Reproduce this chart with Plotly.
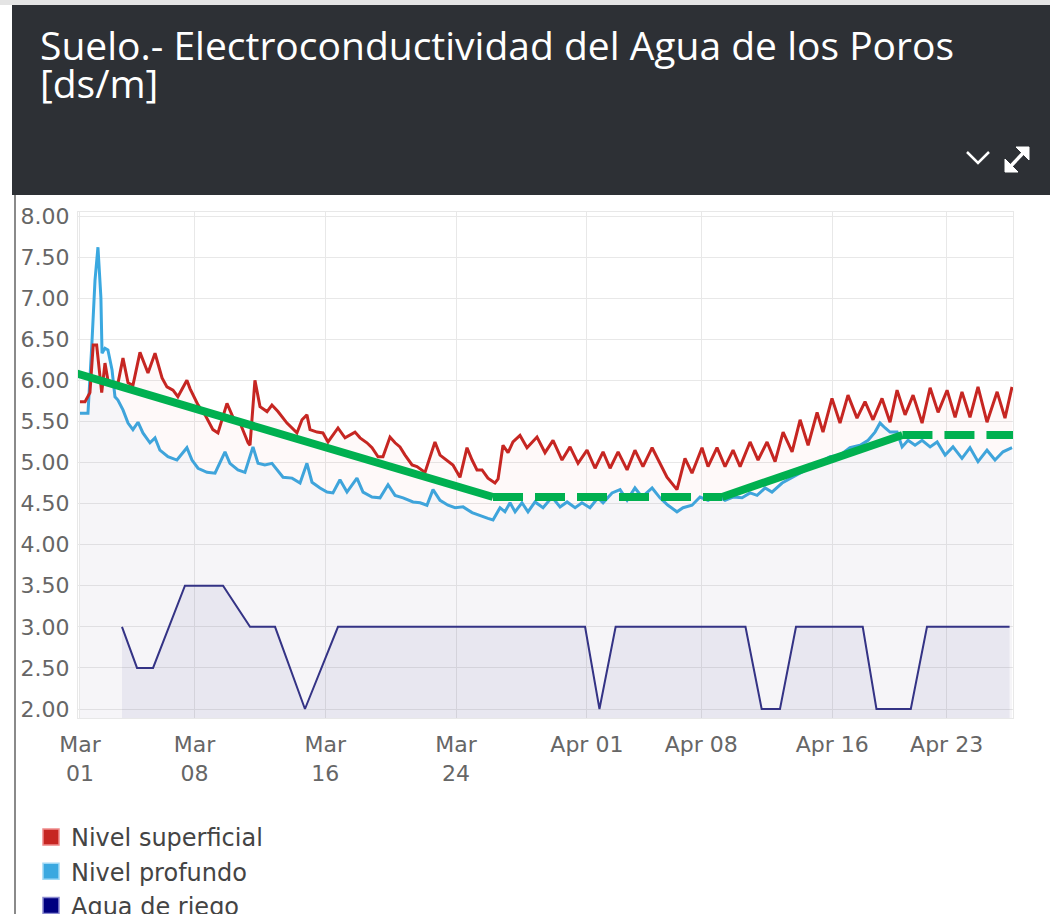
import pandas as pd
import plotly.graph_objects as go

# ---------------- data (x = days since 1 March, y = dS/m) ----------------
base_date = "2019-03-01"

sup_days = [0.00, 0.31, 0.61, 0.81, 1.02, 1.33, 1.53, 1.71, 1.96, 2.32, 2.63, 2.94, 3.24, 3.67,
            4.16, 4.59, 5.02, 5.32, 5.69, 5.99, 6.54, 6.73, 7.22, 7.65, 8.13, 8.44, 8.99, 9.36,
            9.79, 10.28, 10.40, 10.70, 11.01, 11.44, 11.74, 12.11, 12.66, 12.97, 13.27, 13.58,
            13.88, 14.07, 14.50, 14.86, 15.17, 15.78, 16.21, 16.82, 17.13, 17.55, 17.86, 18.23,
            18.53, 18.96, 19.27, 19.57, 19.88, 20.31, 20.61, 21.10, 21.71, 22.02, 22.45, 22.81,
            23.24, 23.67, 23.98, 24.28, 24.59, 24.95, 25.38, 25.57, 25.87, 26.18, 26.48, 26.91,
            27.34, 27.95, 28.44, 28.93, 29.48, 29.97, 30.46, 31.01, 31.50, 31.99, 32.42, 32.91,
            33.46, 33.94, 34.43, 34.99, 35.90, 36.51, 37.00, 37.43, 38.04, 38.41, 38.96, 39.45,
            39.94, 40.37, 40.98, 41.47, 42.02, 42.51, 43.00, 43.55, 44.04, 44.53, 45.08, 45.44,
            45.99, 46.48, 46.97, 47.52, 48.01, 48.50, 49.05, 49.54, 49.97, 50.46, 50.95, 51.50,
            51.99, 52.48, 53.03, 53.52, 53.94, 54.43, 54.92, 55.47, 56.09, 56.57, 57.00]
sup_vals = [5.74, 5.74, 5.85, 6.43, 6.43, 5.85, 6.21, 6.00, 5.98, 5.96, 6.27, 5.97, 5.94, 6.34,
            6.09, 6.33, 6.03, 5.92, 5.88, 5.80, 6.00, 5.90, 5.70, 5.58, 5.40, 5.36, 5.72, 5.55,
            5.48, 5.24, 5.21, 6.00, 5.68, 5.62, 5.70, 5.62, 5.48, 5.42, 5.36, 5.52,
            5.58, 5.40, 5.37, 5.36, 5.25, 5.42, 5.30, 5.37, 5.30, 5.24, 5.18, 5.07,
            5.07, 5.31, 5.24, 5.19, 5.09, 4.97, 4.95, 4.88, 5.25, 5.09, 5.03, 4.97,
            4.82, 5.18, 5.03, 4.91, 4.91, 4.81, 4.75, 4.80, 5.21, 5.12, 5.25, 5.33,
            5.18, 5.31, 5.12, 5.27, 5.03, 5.19, 4.99, 5.15, 4.93, 5.13, 4.93, 5.13,
            4.91, 5.15, 4.95, 5.18, 4.82, 4.67, 5.05, 4.87, 5.18, 4.95, 5.18, 4.95,
            5.15, 4.95, 5.25, 5.03, 5.25, 5.01, 5.37, 5.13, 5.52, 5.21, 5.61, 5.37,
            5.78, 5.48, 5.82, 5.54, 5.74, 5.52, 5.78, 5.49, 5.88, 5.58, 5.82, 5.48,
            5.91, 5.61, 5.88, 5.55, 5.86, 5.55, 5.92, 5.49, 5.86, 5.54, 5.92]

prof_days = [0.00, 0.49, 0.73, 0.92, 1.10, 1.28, 1.35, 1.53, 1.71, 1.96, 2.14, 2.32, 2.63, 2.94,
             3.24, 3.55, 3.85, 4.28, 4.59, 4.89, 5.38, 5.93, 6.54, 6.85, 7.22, 7.77, 8.26, 8.87,
             9.17, 9.66, 10.09, 10.58, 10.89, 11.31, 11.74, 12.05, 12.42, 12.97, 13.46, 13.88,
             14.19, 14.68, 15.11, 15.47, 15.90, 16.33, 16.94, 17.31, 17.86, 18.35, 18.84, 19.27,
             19.76, 20.37, 20.80, 21.22, 21.59, 22.02, 22.51, 22.94, 23.43, 23.98, 24.46, 24.95,
             25.26, 25.69, 25.99, 26.30, 26.61, 27.03, 27.40, 27.83, 28.32, 28.87, 29.36, 29.79,
             30.28, 30.70, 31.19, 31.68, 31.99, 32.54, 33.03, 33.46, 33.94, 34.37, 34.99, 35.47,
             35.96, 36.51, 36.88, 37.43, 37.92, 38.41, 38.96, 39.45, 39.94, 40.49, 40.98, 41.41,
             41.90, 42.32, 42.94, 43.85, 44.83, 45.38, 45.87, 46.48, 47.09, 47.71, 48.20, 48.62,
             48.93, 49.24, 49.54, 49.97, 50.28, 50.64, 51.07, 51.50, 51.99, 52.42, 52.91, 53.39,
             53.94, 54.43, 54.92, 55.47, 55.96, 56.45, 57.00]
prof_vals = [5.60, 5.60, 6.45, 7.22, 7.62, 7.01, 6.33, 6.39, 6.37, 6.13, 5.80, 5.76, 5.64, 5.48,
             5.40, 5.49, 5.36, 5.24, 5.30, 5.15, 5.07, 5.03, 5.18, 5.03, 4.93, 4.88, 4.87, 5.13,
             4.99, 4.91, 4.88, 5.19, 4.99, 4.97, 4.99, 4.91, 4.82, 4.81, 4.75, 4.99,
             4.76, 4.69, 4.64, 4.63, 4.79, 4.64, 4.81, 4.64, 4.58, 4.57, 4.73, 4.60,
             4.57, 4.52, 4.51, 4.48, 4.67, 4.54, 4.48, 4.45, 4.46, 4.39, 4.36, 4.32,
             4.30, 4.45, 4.40, 4.51, 4.40, 4.51, 4.40, 4.52, 4.45, 4.58, 4.46, 4.52,
             4.45, 4.51, 4.45, 4.57, 4.51, 4.63, 4.67, 4.54, 4.69, 4.58, 4.69, 4.57,
             4.48, 4.40, 4.45, 4.48, 4.58, 4.54, 4.60, 4.54, 4.58, 4.57, 4.63, 4.60,
             4.69, 4.64, 4.75, 4.85, 4.95, 5.01, 5.07, 5.09, 5.18, 5.21, 5.27, 5.37,
             5.48, 5.42, 5.37, 5.37, 5.19, 5.27, 5.21, 5.27, 5.19, 5.25, 5.09, 5.19,
             5.05, 5.18, 5.01, 5.15, 5.03, 5.13, 5.18]

riego_days = [2.57, 3.49, 4.47, 6.42, 8.75, 10.40, 11.93, 13.76, 15.78, 30.89, 31.77, 32.76,
              40.70, 41.69, 42.81, 43.79, 47.87, 48.71, 50.81, 51.80, 56.85]
riego_vals = [3.0, 2.5, 2.5, 3.5, 3.5, 3.0, 3.0, 2.0, 3.0, 3.0, 2.0, 3.0,
              3.0, 2.0, 2.0, 3.0, 3.0, 2.0, 2.0, 3.0, 3.0]

# hand-drawn green trend annotation (break points)
trend_days = [-0.49, 25.26, 39.27, 50.30, 57.30]
trend_vals = [6.10, 4.58, 4.58, 5.335, 5.335]

series_names = ["Nivel superficial", "Nivel profundo", "Agua de riego"]

tick_dates = ["2019-03-01", "2019-03-08", "2019-03-16", "2019-03-24",
              "2019-04-01", "2019-04-08", "2019-04-16", "2019-04-23"]
tick_text = ["Mar<br>01", "Mar<br>08", "Mar<br>16", "Mar<br>24",
             "Apr 01", "Apr 08", "Apr 16", "Apr 23"]

title_line1 = "Suelo.- Electroconductividad del Agua de los Poros"
title_line2 = "[ds/m]"

# ---------------- helpers ----------------
t0 = pd.Timestamp(base_date)


def to_dates(days):
    return [t0 + pd.to_timedelta(d, unit="D") for d in days]


W, H = 1050, 914
L, R, T, B = 78, 1013, 212, 718


def pxx(x):
    return (x - L) / (R - L)


def pxy(y):
    return (B - y) / (B - T)


TITLE_FONT = "Open Sans, Noto Sans, DejaVu Sans, sans-serif"
AX_FONT = "DejaVu Sans, Open Sans, sans-serif"
RED = "#c62622"
BLUE = "#3aa8e0"
NAVY = "#2e2e84"
GREEN = "#00b050"

fig = go.Figure()

fig.add_trace(go.Scatter(x=to_dates(riego_days), y=riego_vals, mode="lines",
                         line=dict(color=NAVY, width=2), fill="tozeroy",
                         fillcolor="rgba(40,40,140,0.065)", showlegend=False,
                         name=series_names[2]))
fig.add_trace(go.Scatter(x=to_dates(prof_days), y=prof_vals, mode="lines",
                         line=dict(color=BLUE, width=3), fill="tozeroy",
                         fillcolor="rgba(60,160,230,0.045)", showlegend=False,
                         name=series_names[1]))
fig.add_trace(go.Scatter(x=to_dates(sup_days), y=sup_vals, mode="lines",
                         line=dict(color=RED, width=3), fill="tozeroy",
                         fillcolor="rgba(220,60,60,0.03)", showlegend=False,
                         name=series_names[0]))

# green trend annotation: solid / dashed segments
seg_styles = ["solid", "30px,12px", "solid", "30px,12px"]
td = to_dates(trend_days)
for i, dash in enumerate(seg_styles):
    fig.add_trace(go.Scatter(x=[td[i], td[i + 1]], y=[trend_vals[i], trend_vals[i + 1]],
                             mode="lines", line=dict(color=GREEN, width=8, dash=dash),
                             showlegend=False, hoverinfo="skip"))

# legend swatches
for name, col, edge in zip(series_names, [RED, BLUE, "#000080"],
                           ["#f08a8a", "#9fd8f5", "#8a8ad0"]):
    fig.add_trace(go.Scatter(x=[None], y=[None], mode="markers", name=name,
                             marker=dict(symbol="square", size=18, color=col,
                                         line=dict(color=edge, width=1.5))))

# icon geometry (header buttons)
chev = "M {} {} L {} {} L {} {}".format(pxx(967), pxy(152), pxx(978), pxy(163), pxx(989), pxy(152))
tri1 = "M {} {} L {} {} L {} {} Z".format(pxx(1029), pxy(147), pxx(1016), pxy(147), pxx(1029), pxy(160))
tri2 = "M {} {} L {} {} L {} {} Z".format(pxx(1005), pxy(172), pxx(1018), pxy(172), pxx(1005), pxy(159))

fig.update_layout(
    width=W, height=H,
    margin=dict(l=L, r=W - R, t=T, b=H - B, autoexpand=False),
    paper_bgcolor="white", plot_bgcolor="white",
    font=dict(family=AX_FONT, color="#666666"),
    showlegend=True,
    legend=dict(x=pxx(31), y=pxy(815), xanchor="left", yanchor="top",
                orientation="v", font=dict(size=24, color="#444444", family=AX_FONT),
                bgcolor="rgba(0,0,0,0)", tracegroupgap=0, itemwidth=30),
    xaxis=dict(
        type="date",
        range=[t0 + pd.to_timedelta(-0.12, unit="D"), t0 + pd.to_timedelta(57.06, unit="D")],
        tickmode="array", tickvals=tick_dates, ticktext=tick_text,
        tickfont=dict(size=22, color="#666666", family=AX_FONT),
        showgrid=True, gridcolor="#e8e8e8", gridwidth=1.2,
        showline=True, linecolor="#e8e8e8", mirror=True,
        zeroline=False, ticks="", ticklabelstandoff=7,
    ),
    yaxis=dict(
        range=[2 - (B - 709) / 82.17, 8 + (216 - T) / 82.17],
        tick0=2, dtick=0.5, tickformat=".2f",
        tickfont=dict(size=22, color="#666666", family=AX_FONT),
        showgrid=True, gridcolor="#e8e8e8", gridwidth=1.2,
        showline=True, linecolor="#e8e8e8", mirror=True,
        zeroline=False, ticks="", ticklabelstandoff=3,
    ),
    shapes=[
        # light top strip
        dict(type="rect", xref="paper", yref="paper", x0=pxx(0), x1=pxx(W),
             y0=pxy(5), y1=pxy(0), fillcolor="#e4e4e4", line=dict(width=0), layer="below"),
        # dark header panel
        dict(type="rect", xref="paper", yref="paper", x0=pxx(12), x1=pxx(W),
             y0=pxy(195), y1=pxy(5), fillcolor="#2d3035", line=dict(width=0)),
        # left panel border
        dict(type="line", xref="paper", yref="paper", x0=pxx(15), x1=pxx(15),
             y0=pxy(H), y1=pxy(195), line=dict(color="#8a8a8a", width=2)),
        # header icons: chevron and expand arrows
        dict(type="path", xref="paper", yref="paper", path=chev,
             line=dict(color="white", width=2.5)),
        dict(type="line", xref="paper", yref="paper", x0=pxx(1009), y0=pxy(168),
             x1=pxx(1025), y1=pxy(151), line=dict(color="white", width=3.5)),
        dict(type="path", xref="paper", yref="paper", path=tri1,
             fillcolor="white", line=dict(color="white", width=1)),
        dict(type="path", xref="paper", yref="paper", path=tri2,
             fillcolor="white", line=dict(color="white", width=1)),
    ],
    annotations=[
        dict(text=title_line1, xref="paper", yref="paper", x=pxx(38), y=pxy(45),
             xanchor="left", yanchor="middle", showarrow=False,
             font=dict(size=39, color="white", family=TITLE_FONT)),
        dict(text=title_line2, xref="paper", yref="paper", x=pxx(38), y=pxy(83),
             xanchor="left", yanchor="middle", showarrow=False,
             font=dict(size=39, color="white", family=TITLE_FONT)),
    ],
)

fig.write_html("out.html", config={"displayModeBar": False},
               post_script="document.body.style.margin='0px';document.body.style.padding='0px';")
